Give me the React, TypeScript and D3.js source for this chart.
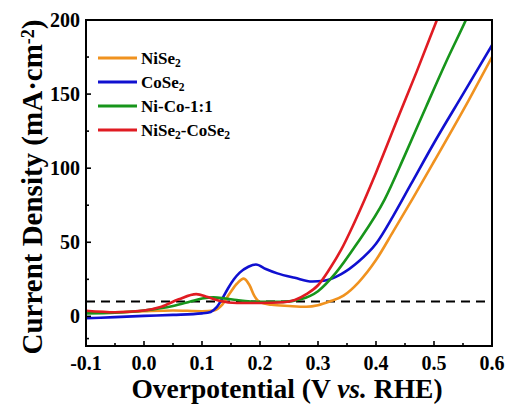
import React, { useRef, useEffect } from "react";
import * as d3 from "d3";

// LSV curves (potential in V vs. RHE, current density in mA cm^-2)
const niSe2X = [-0.1, -0.05, 0, 0.05, 0.1, 0.12, 0.135, 0.148, 0.16, 0.172, 0.182, 0.19, 0.2, 0.22, 0.25, 0.28, 0.3, 0.32, 0.344, 0.37, 0.4, 0.43, 0.464, 0.5, 0.56, 0.6];
const niSe2Y = [3, 2.8, 3.5, 4, 3.5, 4, 8, 15.6, 22, 25.5, 21, 14, 9.5, 7.8, 7, 6.5, 7.5, 10, 14, 23, 38, 57.5, 80, 104.5, 146, 175];

const coSe2X = [-0.1, -0.05, 0, 0.05, 0.1, 0.115, 0.125, 0.135, 0.145, 0.155, 0.165, 0.18, 0.193, 0.21, 0.23, 0.26, 0.29, 0.31, 0.34, 0.37, 0.4, 0.43, 0.46, 0.5, 0.55, 0.6];
const coSe2Y = [-1.3, -0.5, 0.3, 1, 2, 3, 6, 12, 19, 25, 29.5, 33.5, 35, 32, 29, 26, 23.5, 24, 28.5, 37, 49, 68, 89, 117, 150, 183];

const niCoX = [-0.1, -0.05, 0, 0.05, 0.08, 0.1, 0.12, 0.14, 0.16, 0.2, 0.24, 0.27, 0.3, 0.33, 0.367, 0.415, 0.45, 0.487, 0.52, 0.555, 0.58];
const niCoY = [2, 2.5, 4, 7, 10, 12, 12.8, 12, 11, 9.8, 9.8, 11.5, 17, 29, 49, 79, 109, 142, 171, 200, 222];

const hybridX = [-0.1, -0.05, 0, 0.03, 0.06, 0.09, 0.11, 0.13, 0.16, 0.2, 0.24, 0.26, 0.28, 0.3, 0.32, 0.34, 0.36, 0.375, 0.4, 0.44, 0.47, 0.505, 0.53];
const hybridY = [3.8, 2.8, 4, 6.5, 11.5, 15, 13, 10.5, 9, 9, 9.5, 11, 15, 21, 32, 45, 61, 74, 97, 136, 165, 200, 225];

const seriesNames = ["NiSe_2", "CoSe_2", "Ni-Co-1:1", "NiSe_2-CoSe_2"];
const seriesColors = ["#F0921F", "#1010D0", "#17951B", "#E01B22"];

const xTicks = [-0.1, 0, 0.1, 0.2, 0.3, 0.4, 0.5, 0.6];
const xMinorTicks = [-0.05, 0.05, 0.15, 0.25, 0.35, 0.45, 0.55];
const yTicks = [0, 50, 100, 150, 200];
const yMinorTicks = [-15, 25, 75, 125, 175];
const refCurrent = 10;

const FONT = "'Liberation Serif', 'Times New Roman', serif";

// split "NiSe_2" into normal / subscript pieces
const addRichText = (sel, label, size) => {
  label.split(/(_2)/).filter((p) => p !== "").forEach((p) => {
    if (p === "_2") {
      sel.append("tspan").attr("font-size", size * 0.68).attr("baseline-shift", "-25%").text("2");
    } else {
      sel.append("tspan").text(p);
    }
  });
};

const App = () => {
  const svgRef = useRef(null);

  useEffect(() => {
    const svg = d3.select(svgRef.current);
    svg.selectAll("*").remove();

    const left = 86, right = 492, top = 20, bottom = 346;
    const x = d3.scaleLinear().domain([-0.1, 0.6]).range([left, right]);
    const y = d3.scaleLinear().domain([-20, 200]).range([bottom, top]);

    svg.append("defs").append("clipPath").attr("id", "plotClip")
      .append("rect").attr("x", left).attr("y", top)
      .attr("width", right - left).attr("height", bottom - top);

    // reference line at 10 mA cm^-2
    svg.append("line")
      .attr("x1", x(-0.1)).attr("x2", x(0.6))
      .attr("y1", y(refCurrent)).attr("y2", y(refCurrent))
      .attr("stroke", "#000").attr("stroke-width", 2)
      .attr("stroke-dasharray", "9,6");

    const series = [
      [niSe2X, niSe2Y],
      [coSe2X, coSe2Y],
      [niCoX, niCoY],
      [hybridX, hybridY],
    ];

    const line = d3.line()
      .x((d) => x(d[0]))
      .y((d) => y(d[1]))
      .curve(d3.curveMonotoneX);

    const plot = svg.append("g").attr("clip-path", "url(#plotClip)");
    // draw order: orange, blue, green, red on top
    series.forEach(([xs, ys], i) => {
      plot.append("path")
        .datum(xs.map((v, j) => [v, ys[j]]))
        .attr("d", line)
        .attr("fill", "none")
        .attr("stroke", seriesColors[i])
        .attr("stroke-width", 2.6)
        .attr("stroke-linejoin", "round");
    });

    // frame
    svg.append("rect")
      .attr("x", left).attr("y", top)
      .attr("width", right - left).attr("height", bottom - top)
      .attr("fill", "none").attr("stroke", "#000").attr("stroke-width", 2);

    // ticks (inward)
    const tickG = svg.append("g").attr("stroke", "#000").attr("stroke-width", 1.6);
    tickG.selectAll(".xt").data(xTicks).enter().append("line")
      .attr("x1", (d) => x(d)).attr("x2", (d) => x(d))
      .attr("y1", bottom).attr("y2", bottom - 5);
    tickG.selectAll(".xm").data(xMinorTicks).enter().append("line")
      .attr("x1", (d) => x(d)).attr("x2", (d) => x(d))
      .attr("y1", bottom).attr("y2", bottom - 3);
    tickG.selectAll(".yt").data(yTicks).enter().append("line")
      .attr("x1", left).attr("x2", left + 5)
      .attr("y1", (d) => y(d)).attr("y2", (d) => y(d));
    tickG.selectAll(".ym").data(yMinorTicks).enter().append("line")
      .attr("x1", left).attr("x2", left + 3)
      .attr("y1", (d) => y(d)).attr("y2", (d) => y(d));

    // tick labels
    svg.selectAll(".xl").data(xTicks).enter().append("text")
      .attr("x", (d) => x(d)).attr("y", 370)
      .attr("text-anchor", "middle")
      .attr("font-family", FONT).attr("font-weight", "bold").attr("font-size", 20)
      .text((d) => d.toFixed(1));
    svg.selectAll(".yl").data(yTicks).enter().append("text")
      .attr("x", 80).attr("y", (d) => y(d)).attr("dy", "0.35em")
      .attr("text-anchor", "end")
      .attr("font-family", FONT).attr("font-weight", "bold").attr("font-size", 20)
      .text((d) => d);

    // axis titles
    const xt = svg.append("text")
      .attr("x", 287).attr("y", 398)
      .attr("text-anchor", "middle")
      .attr("font-family", FONT).attr("font-weight", "bold").attr("font-size", 27.5);
    xt.append("tspan").text("Overpotential (V ");
    xt.append("tspan").attr("font-style", "italic").text("vs.");
    xt.append("tspan").text(" RHE)");

    const yt = svg.append("text")
      .attr("transform", "translate(42,187) rotate(-90)")
      .attr("text-anchor", "middle")
      .attr("font-family", FONT).attr("font-weight", "bold").attr("font-size", 29);
    yt.append("tspan").text("Current Density (mA\u00B7cm");
    yt.append("tspan").attr("font-size", 18).attr("baseline-shift", "45%").text("-2");
    yt.append("tspan").text(")");

    // legend
    const legend = svg.append("g");
    seriesNames.forEach((name, i) => {
      const ly = 58 + i * 24;
      legend.append("line")
        .attr("x1", 98).attr("x2", 137).attr("y1", ly).attr("y2", ly)
        .attr("stroke", seriesColors[i]).attr("stroke-width", 3);
      const t = legend.append("text")
        .attr("x", 141).attr("y", ly + 6)
        .attr("font-family", FONT).attr("font-weight", "bold").attr("font-size", 17);
      addRichText(t, name, 17);
    });
  }, []);

  return (
    <svg
      ref={svgRef}
      width="509"
      height="409"
      style={{ position: "absolute", left: 0, top: 0, background: "#fff" }}
    />
  );
};

export default App;
